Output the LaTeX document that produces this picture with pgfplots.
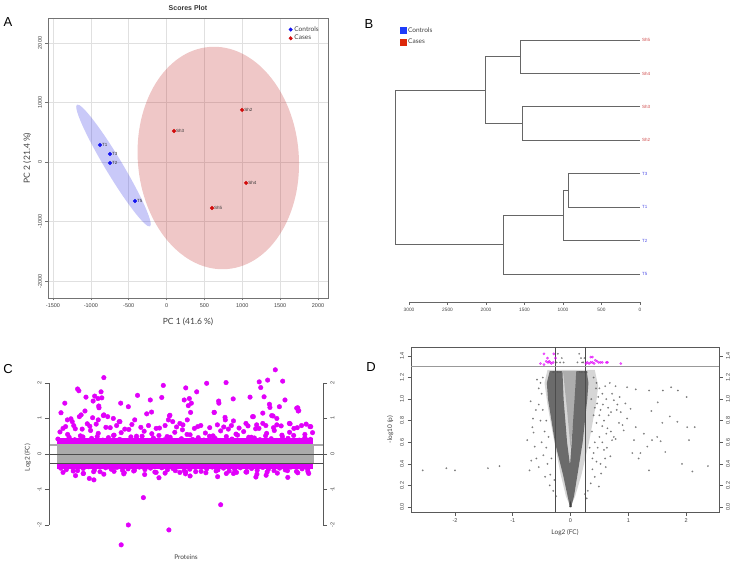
\documentclass[border=0pt]{standalone}
\usepackage{fontspec}
\setmainfont{Lato}
\newfontfamily\arial{Liberation Sans}
\usepackage{pgfplots}
\usepackage{pgfplotstable}
\pgfplotsset{compat=1.18}
\definecolor{ctrlblue}{RGB}{20,20,240}
\definecolor{caseRed}{RGB}{210,10,10}
\definecolor{ellBlue}{RGB}{60,60,230}
\definecolor{ellRed}{RGB}{190,30,30}
\definecolor{magC}{RGB}{225,0,250}
\definecolor{legBlue}{RGB}{30,60,250}
\definecolor{legRed}{RGB}{220,40,10}
\definecolor{leafRed}{RGB}{205,70,70}
\definecolor{leafBlue}{RGB}{80,80,230}
\newcommand\tickfont{\arial\fontsize{5.5}{6}\selectfont}
\newcommand\leaffont{\arial\fontsize{4.5}{5}\selectfont}
\newcommand\panelfont{\arial\fontsize{13}{14}\selectfont}

\pgfplotstableread{
x y lab
-879 286 T1
-747 134 T3
-747 -17 T2
-417 -655 T5
}\ctrl
\pgfplotstableread{
x y lab
997 874 Sh2
98 521 Sh3
1050 -353 Sh4
600 -773 Sh5
}\cases

% Panel C: upper band points
\pgfplotstableread{
x y
0 .42
22 .38
44 .47
66 .40
88 .51
110 .37
132 .44
154 .49
176 .39
198 .46
220 .53
242 .41
264 .36
286 .48
308 .43
330 .50
352 .38
374 .45
396 .52
418 .40
440 .47
462 .37
484 .43
506 .55
528 .41
550 .46
572 .39
594 .50
616 .44
638 .38
660 .49
682 .42
704 .53
726 .36
748 .47
770 .45
792 .40
814 .51
836 .43
858 .38
880 .48
902 .44
924 .52
946 .39
968 .46
990 .41
8 .62
38 .55
68 .71
98 .48
128 .66
158 .58
188 .75
218 .52
248 .60
278 .69
308 .50
338 .64
368 .57
398 .73
428 .49
458 .61
488 .68
518 .54
548 .77
578 .59
608 .51
638 .65
668 .70
698 .56
728 .63
758 .47
788 .72
818 .58
848 .66
878 .53
908 .61
938 .74
968 .55
998 .60
20 .72
62 .80
95 .70
125 .78
150 .84
205 .74
230 .80
262 .70
290 .83
325 .75
355 .80
385 .72
420 .80
465 .76
490 .82
535 .72
560 .80
595 .74
625 .82
650 .76
680 .80
710 .73
745 .79
775 .71
815 .80
845 .74
875 .79
925 .72
955 .80
180 2.15
77 1.83
82 1.78
27 1.43
12 1.16
110 1.60
138 1.49
144 1.63
157 1.56
169 1.75
160 1.35
161 1.30
172 1.58
91 1.10
106 1.21
115 0.85
51 0.99
180 1.10
195 1.05
246 1.43
276 1.33
312 1.65
240 0.91
301 0.96
348 1.13
367 1.18
362 1.52
413 1.93
407 1.59
439 1.09
450 0.91
501 1.86
515 1.56
523 1.43
495 1.52
544 1.75
583 1.99
612 1.17
630 1.49
631 1.43
659 2.01
655 1.03
656 0.96
687 1.55
753 1.60
766 1.05
789 2.03
795 1.87
808 1.61
822 2.08
829 1.40
831 1.31
843 1.07
852 2.37
858 0.82
881 2.05
868 1.33
890 1.52
910 0.85
940 1.30
944 1.22
973 0.84
988 0.77
30 0.77
84 1.05
37 0.96
56 0.91
136 1.02
158 0.96
178 1.08
217 1.00
243 0.91
437 1.07
433 0.96
511 1.36
688 0.93
763 1.05
803 1.15
838 1.08
858 1.00
907 0.86
991 0.77
737 0.86
779 0.82
803 0.86
478 0.86
507 0.96
613 1.17
520 1.17
936 1.29
942 1.21
}\magUp

\pgfplotstableread{
x y
11 -.40
33 -.44
55 -.37
77 -.47
99 -.41
121 -.36
143 -.45
165 -.50
187 -.39
209 -.43
231 -.38
253 -.46
275 -.42
297 -.48
319 -.37
341 -.44
363 -.40
385 -.52
407 -.39
429 -.45
451 -.41
473 -.36
495 -.47
517 -.43
539 -.38
561 -.49
583 -.42
605 -.37
627 -.45
649 -.40
671 -.48
693 -.44
715 -.39
737 -.51
759 -.41
781 -.46
803 -.38
825 -.43
847 -.47
869 -.40
891 -.45
913 -.37
935 -.49
957 -.42
979 -.44
20 -.52
60 -.48
100 -.55
140 -.50
180 -.57
220 -.49
260 -.53
300 -.46
340 -.58
380 -.51
420 -.54
460 -.47
500 -.56
540 -.50
580 -.53
620 -.48
660 -.55
700 -.52
740 -.49
780 -.57
820 -.51
860 -.54
900 -.47
940 -.53
980 -.50
123 -0.69
141 -0.73
258 -0.56
335 -1.23
276 -2.00
248 -2.56
435 -2.14
638 -1.43
396 -0.67
69 -0.61
99 -0.55
518 -0.62
626 -0.64
776 -0.65
816 -0.60
901 -0.66
688 -0.55
501 -0.51
478 -0.52
983 -0.55
740 -0.51
}\magDown

% Panel D scattered points
\pgfplotstableread{
x y
-0.22 1.42
-0.15 1.38
-0.18 1.34
-0.12 1.34
0.15 1.42
0.18 1.38
0.12 1.34
0.20 1.34
-0.24 1.34
0.22 1.34
0.24 1.38
0.98 1.11
1.13 1.09
1.36 1.08
1.60 1.08
1.74 1.11
1.86 1.08
2.01 1.02
1.51 0.97
1.40 0.89
1.59 0.78
1.72 0.84
1.85 0.79
2.02 0.74
2.15 0.74
2.05 0.62
1.93 0.40
2.11 0.33
2.38 0.38
1.07 0.50
1.21 0.50
1.33 0.56
1.41 0.62
1.56 0.61
1.50 0.65
1.64 0.51
1.27 0.68
1.13 0.74
0.98 0.82
0.87 0.88
0.95 0.96
1.04 0.91
0.75 0.99
0.81 0.95
0.72 0.62
0.75 0.65
0.78 0.63
0.69 0.47
0.61 0.37
0.49 0.19
0.53 0.31
0.58 0.53
0.64 0.73
0.58 0.80
0.52 0.90
0.46 0.96
0.66 0.85
0.84 0.78
0.90 0.76
0.92 0.71
1.10 0.62
1.18 0.45
1.36 0.34
0.40 1.20
0.45 1.15
0.50 1.10
0.55 1.05
0.60 1.12
0.62 1.00
0.48 1.02
0.42 0.92
0.56 0.95
0.65 0.92
0.70 0.88
0.50 0.85
0.45 0.78
0.55 0.75
0.62 0.68
0.70 0.70
0.50 0.65
0.42 0.60
0.47 0.55
0.55 0.60
0.40 0.50
0.45 0.42
0.38 0.35
0.42 0.28
0.35 0.22
0.30 0.15
0.38 0.45
0.33 0.55
0.37 0.70
0.40 0.85
0.36 1.00
0.44 1.10
0.68 1.15
0.78 1.12
0.72 1.05
0.85 1.02
0.80 0.90
0.60 0.45
0.63 0.55
0.52 0.40
0.28 0.08
0.25 0.12
-2.56 0.34
-2.15 0.36
-2.00 0.34
-1.43 0.36
-1.23 0.38
-0.71 0.34
-0.69 0.98
-0.65 0.82
-0.66 0.74
-0.64 0.69
-0.62 0.56
-0.59 0.45
-0.55 0.37
-0.58 1.18
-0.52 1.15
-0.44 0.28
-0.36 0.20
-0.50 1.05
-0.55 0.95
-0.48 0.90
-0.52 0.80
-0.45 0.70
-0.50 0.60
-0.42 0.55
-0.47 0.48
-0.40 0.40
-0.35 0.30
-0.30 0.15
-0.25 0.10
-0.55 1.10
-0.48 1.20
-0.60 0.90
-0.42 0.80
-0.38 0.65
-0.33 0.45
-0.28 0.25
-0.75 0.62
-0.68 0.43
-0.30 1.25
-0.26 1.25
-0.22 1.25
-0.18 1.25
0.16 1.25
0.20 1.25
0.24 1.25
0.28 1.25
}\volc

\pgfplotstableread{
x y
-0.46 1.42
-0.29 1.42
-0.40 1.38
-0.39 1.34
-0.35 1.34
-0.30 1.34
-0.52 1.33
-0.46 1.32
-0.26 1.38
-0.42 1.35
-0.37 1.35
-0.33 1.33
0.35 1.39
0.38 1.39
0.29 1.34
0.35 1.34
0.38 1.34
0.43 1.36
0.49 1.34
0.55 1.34
0.62 1.34
0.64 1.34
0.87 1.33
0.32 1.33
0.27 1.33
0.41 1.33
0.46 1.35
0.52 1.34
}\volcSig

\begin{document}
\begin{tikzpicture}
\path[use as bounding box] (0pt,0pt) rectangle (736pt,563pt);

% ---------------- Panel A ----------------
\begin{axis}[
  at={(48pt,265pt)}, anchor=south west, scale only axis,
  width=280pt, height=280pt,
  xmin=-1566, xmax=2132, ymin=-2286, ymax=2420,
  xtick={-1500,-1000,-500,0,500,1000,1500,2000},
  ytick={-2000,-1000,0,1000,2000},
  grid=major, grid style={draw=black!12, line width=0.6pt},
  axis line style={draw=black!55, line width=0.8pt},
  tick align=outside, tick pos=left, major tick length=2.5pt,
  tick style={black!55, line width=0.6pt},
  ticklabel style={font=\tickfont, text=black!75},
  yticklabel style={rotate=90, anchor=south},
  /pgf/number format/assume math mode=true,
  /pgf/number format/1000 sep={},
  scaled ticks=false,
  xlabel={PC 1 (41.6 \%)}, ylabel={PC 2 (21.4 \%)},
  xlabel style={yshift=-3pt},
  label style={font=\fontsize{8.5}{9}\selectfont, text=black!75},
  title={Scores Plot},
  title style={font=\arial\bfseries\fontsize{7}{8}\selectfont, text=black!80, yshift=-2pt},
  legend style={at={(0.985,0.985)}, anchor=north east, draw=none, fill=none,
     font=\fontsize{6.5}{7}\selectfont, row sep=-1.5pt, text=black!75},
  legend cell align=left,
]
\fill[ellBlue, opacity=0.28, rotate around={121:(axis cs:-701,-59)}] (axis cs:-701,-59) ellipse [x radius=71pt, y radius=8.5pt];
\fill[ellRed, opacity=0.25, rotate around={4.6:(axis cs:683,67)}] (axis cs:683,67) ellipse [x radius=80.5pt, y radius=111.4pt];
\addplot[only marks, mark=*, mark size=1.8pt, color=ctrlblue,
  nodes near coords, point meta=explicit symbolic,
  every node near coord/.append style={anchor=west, font=\leaffont, text=black!80, inner sep=1pt, xshift=1pt}]
  table[x=x, y=y, meta=lab] {\ctrl};
\addlegendentry{Controls}
\addplot[only marks, mark=*, mark size=1.8pt, color=caseRed,
  nodes near coords, point meta=explicit symbolic,
  every node near coord/.append style={anchor=west, font=\leaffont, text=black!80, inner sep=1pt, xshift=1pt}]
  table[x=x, y=y, meta=lab] {\cases};
\addlegendentry{Cases}
\end{axis}

% ---------------- Panel B ----------------
\begin{axis}[
  at={(409pt,261pt)}, anchor=south west, scale only axis,
  width=231pt, height=278.7pt,
  xmin=0, xmax=3000, x dir=reverse, ymin=-8.84, ymax=-0.5,
  axis x line=bottom, axis y line=none,
  axis line style={-, draw=black!60, line width=0.7pt},
  xtick={0,500,1000,1500,2000,2500,3000},
  tick align=outside, major tick length=2.5pt,
  tick style={black!60, line width=0.6pt},
  ticklabel style={font=\arial\fontsize{4.8}{5}\selectfont, text=black!75},
  /pgf/number format/assume math mode=true,
  /pgf/number format/1000 sep={},
  scaled ticks=false, clip=false,
  legend style={at={(axis description cs:-0.052,1.0)}, anchor=north west, draw=none, fill=none,
     font=\fontsize{6.5}{7}\selectfont, row sep=1.5pt, text=black!75},
  legend cell align=left,
]
\addlegendimage{only marks, mark=square*, mark size=3pt, color=legBlue}
\addlegendentry{Controls}
\addlegendimage{only marks, mark=square*, mark size=3pt, color=legRed}
\addlegendentry{Cases}
\addplot[black!60, line width=0.8pt, forget plot] coordinates {(0,-1) (1558,-1) (1558,-2) (0,-2)};
\addplot[black!60, line width=0.8pt, forget plot] coordinates {(0,-3) (1532,-3) (1532,-4) (0,-4)};
\addplot[black!60, line width=0.8pt, forget plot] coordinates {(1558,-1.5) (2013,-1.5) (2013,-3.5) (1532,-3.5)};
\addplot[black!60, line width=0.8pt, forget plot] coordinates {(0,-5) (935,-5) (935,-6) (0,-6)};
\addplot[black!60, line width=0.8pt, forget plot] coordinates {(935,-5.5) (1000,-5.5) (1000,-7) (0,-7)};
\addplot[black!60, line width=0.8pt, forget plot] coordinates {(1000,-6.25) (1779,-6.25) (1779,-8) (0,-8)};
\addplot[black!60, line width=0.8pt, forget plot] coordinates {(2013,-2.5) (3182,-2.5) (3182,-7.125) (1779,-7.125)};
\addplot[draw=none, forget plot, nodes near coords, point meta=explicit symbolic,
  every node near coord/.append style={anchor=west, font=\leaffont, text=leafRed, inner sep=1pt, xshift=1pt}]
  coordinates {(0,-1) [Sh5] (0,-2) [Sh4] (0,-3) [Sh3] (0,-4) [Sh2]};
\addplot[draw=none, forget plot, nodes near coords, point meta=explicit symbolic,
  every node near coord/.append style={anchor=west, font=\leaffont, text=leafBlue, inner sep=1pt, xshift=1pt}]
  coordinates {(0,-5) [T3] (0,-6) [T1] (0,-7) [T2] (0,-8) [T5]};
\end{axis}

% ---------------- Panel C ----------------
\begin{axis}[
  at={(49pt,11.4pt)}, anchor=south west, scale only axis,
  width=274pt, height=188.2pt,
  xmin=-35, xmax=1039, ymin=-2.75, ymax=2.55,
  axis line style={draw=none},
  xtick=\empty, ytick={-2,-1,0,1,2}, ytick pos=left,
  tick align=outside, major tick length=4pt,
  tick style={black!65, line width=0.7pt},
  ticklabel style={font=\tickfont, text=black!75},
  yticklabel style={rotate=90, anchor=south},
  /pgf/number format/assume math mode=true,
  xlabel={Proteins}, ylabel={Log2 (FC)},
  xlabel style={at={(axis description cs:0.5,0)}, anchor=north, inner sep=0pt, yshift=-3pt},
  label style={font=\fontsize{6.5}{7}\selectfont, text=black!75},
  clip=false,
]
\addplot[fill=magC, draw=none] coordinates {(-5,0.27) (1000,0.27) (1000,0.44) (-5,0.44)} -- cycle;
\addplot[fill=magC, draw=none] coordinates {(-5,-0.27) (1000,-0.27) (1000,-0.43) (-5,-0.43)} -- cycle;
\addplot[only marks, mark=*, mark size=2.3pt, color=magC] table[x=x,y=y] {\magUp};
\addplot[only marks, mark=*, mark size=2.3pt, color=magC] table[x=x,y=y] {\magDown};
\addplot[fill=black!33, draw=none] coordinates {(-5,-0.27) (1003,-0.27) (1003,0.28) (-5,0.28)} -- cycle;
\addplot[black!33, line width=1.5pt] coordinates {(-35,0.25) (1039,0.25)};
\addplot[black!70, line width=0.6pt] coordinates {(-35,0) (1039,0)};
\addplot[black!70, line width=0.6pt] coordinates {(-35,-0.25) (1039,-0.25)};
\draw[black!65, line width=0.8pt] (axis cs:-35,-2) -- (axis cs:-35,2);
\draw[black!65, line width=0.8pt] (axis cs:1039,-2) -- (axis cs:1039,2);
\end{axis}
\begin{axis}[
  at={(49pt,11.4pt)}, anchor=south west, scale only axis,
  width=274pt, height=188.2pt,
  xmin=-35, xmax=1039, ymin=-2.75, ymax=2.55,
  axis line style={draw=none},
  xtick=\empty, ytick={-2,-1,0,1,2}, ytick pos=right, yticklabel pos=right,
  tick align=outside, major tick length=4pt,
  tick style={black!65, line width=0.7pt},
  ticklabel style={font=\tickfont, text=black!75},
  yticklabel style={rotate=90, anchor=north},
  /pgf/number format/assume math mode=true,
]
\addplot[draw=none] coordinates {(0,0)};
\end{axis}

% ---------------- Panel D ----------------
\begin{axis}[
  at={(411pt,51pt)}, anchor=south west, scale only axis,
  width=308pt, height=165pt,
  xmin=-2.762, xmax=2.571, ymin=-0.046, ymax=1.483,
  axis line style={draw=black!65, line width=0.8pt},
  xtick={-2,-1,0,1,2}, ytick={0,0.2,0.4,0.6,0.8,1.0,1.2,1.4},
  xtick pos=left, ytick pos=left,
  tick align=outside, major tick length=3.5pt,
  tick style={black!65, line width=0.7pt},
  ticklabel style={font=\tickfont, text=black!75},
  yticklabel style={rotate=90, anchor=south, /pgf/number format/.cd, fixed, fixed zerofill, precision=1},
  /pgf/number format/assume math mode=true,
  xlabel={Log2 (FC)}, ylabel={-log10 (p)},
  label style={font=\fontsize{6.5}{7}\selectfont, text=black!75},
]
\addplot[fill=black!16, draw=none] coordinates {(0,0) (-0.08,0.1) (-0.17,0.3) (-0.28,0.6) (-0.4,0.95) (-0.45,1.15) (-0.4,1.27) (0.42,1.27) (0.48,1.12) (0.44,0.95) (0.32,0.6) (0.19,0.3) (0.08,0.1)} -- cycle;
\addplot[fill=black!32, draw=none] coordinates {(-0.13,1.26) (0.1,1.26) (0.07,0.9) (0.0,0.55) (-0.06,0.9)} -- cycle;
\addplot[fill=black!58, draw=none] coordinates {(-0.01,0) (-0.05,0.1) (-0.13,0.3) (-0.27,0.6) (-0.39,1.0) (-0.41,1.15) (-0.36,1.26) (-0.14,1.26) (-0.12,1.0) (-0.06,0.6) (0.0,0.35) (0.04,0.15) (0.01,0)} -- cycle;
\addplot[fill=black!58, draw=none] coordinates {(0.01,0) (0.06,0.1) (0.12,0.3) (0.21,0.6) (0.29,1.0) (0.31,1.15) (0.28,1.26) (0.1,1.26) (0.07,1.0) (0.02,0.6) (-0.02,0.3) (-0.04,0.15) (-0.01,0)} -- cycle;
\addplot[black!75, line width=1.2pt] coordinates {(-0.01,0.0) (0.0,0.03) (0.01,0.0)};
\addplot[only marks, mark=*, mark size=0.7pt, mark options={draw=black!70, fill=black!40, draw opacity=0.7, fill opacity=0.4}] table[x=x,y=y] {\volc};
\addplot[only marks, mark=*, mark size=1.2pt, mark options={draw=magC, fill=magC, opacity=0.6}] table[x=x,y=y] {\volcSig};
\addplot[black!70, line width=0.6pt] coordinates {(-0.26,-0.046) (-0.26,1.483)};
\addplot[black!70, line width=0.6pt] coordinates {(0.26,-0.046) (0.26,1.483)};
\addplot[black!40, line width=1.3pt] coordinates {(-2.762,1.3) (2.571,1.3)};
\end{axis}
\begin{axis}[
  at={(411pt,51pt)}, anchor=south west, scale only axis,
  width=308pt, height=165pt,
  xmin=-2.762, xmax=2.571, ymin=-0.046, ymax=1.483,
  axis line style={draw=none},
  xtick=\empty, ytick={0,0.2,0.4,0.6,0.8,1.0,1.2,1.4},
  ytick pos=right, yticklabel pos=right,
  tick align=outside, major tick length=3.5pt,
  tick style={black!65, line width=0.7pt},
  ticklabel style={font=\tickfont, text=black!75},
  yticklabel style={rotate=90, anchor=north, /pgf/number format/.cd, fixed, fixed zerofill, precision=1},
  /pgf/number format/assume math mode=true,
]
\addplot[draw=none] coordinates {(0,0)};
\end{axis}

% panel letters
\node[font=\panelfont] at (8pt,541pt) {A};
\node[font=\panelfont] at (369pt,539pt) {B};
\node[font=\panelfont] at (8pt,194pt) {C};
\node[font=\panelfont] at (371pt,196pt) {D};
\end{tikzpicture}
\end{document}
